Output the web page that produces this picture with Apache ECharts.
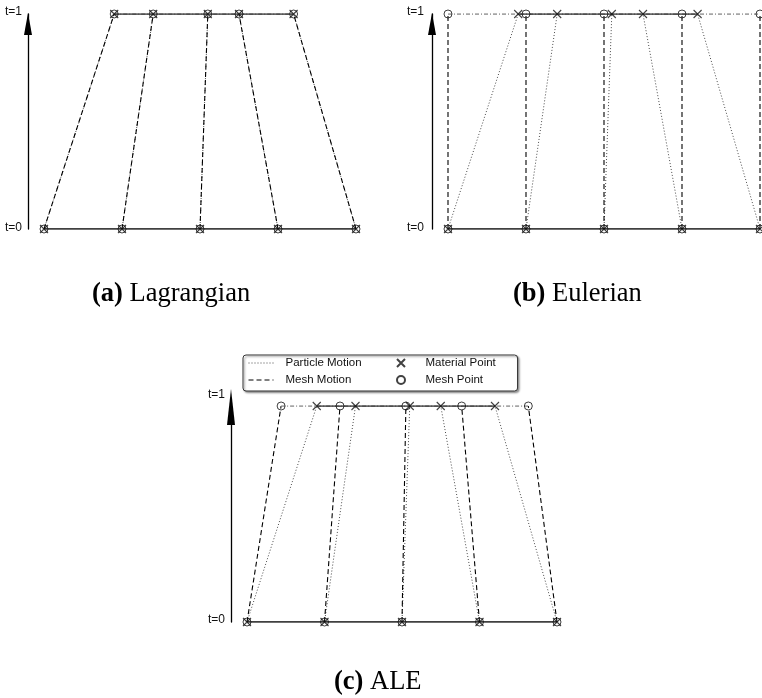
<!DOCTYPE html>
<html><head><meta charset="utf-8">
<script src="https://cdn.jsdelivr.net/npm/echarts@6/dist/echarts.min.js"></script>
<style>html,body{margin:0;padding:0;background:#fff}#c{width:762px;height:698px}</style>
</head><body><div id="c"></div>
<script>
// ---- data ----
const nodesT0 = [0, 1, 2, 3, 4];                 // node positions at t=0 (all panels)
const materialT1 = [0.9, 1.4, 2.1, 2.5, 3.2];    // material points at t=1
const meshT1Lagrangian = [0.9, 1.4, 2.1, 2.5, 3.2];
const meshT1Eulerian = [0, 1, 2, 3, 4];
const meshT1ALE = [0.44, 1.2, 2.05, 2.77, 3.63];
const timeLevels = [0, 1];
const timeLabels = ['t=0', 't=1'];
const captionTags = ['(a)', '(b)', '(c)'];
const captionNames = ['Lagrangian', 'Eulerian', 'ALE'];
const legendLines = ['Particle Motion', 'Mesh Motion'];
const legendPoints = ['Material Point', 'Mesh Point'];

const meshT1 = [meshT1Lagrangian, meshT1Eulerian, meshT1ALE];

// ---- layout / style ----
const panels = [
  {left: 44, top: 14, width: 312, height: 215, lift: [1, 2], arrowH: 22, arrowOff: -10, labelMargin: 6},
  {left: 448, top: 14, width: 312, height: 215, lift: [1, 2], arrowH: 22, arrowOff: -10, labelMargin: 8},
  {left: 247, top: 406, width: 310, height: 216, lift: [2, 11], arrowH: 36, arrowOff: -1, labelMargin: 6}
];
const captionPos = [[92, 281], [513, 281], [334, 669]];
const xPath = 'path://M0,0L10,10M10,0L0,10';

const grid = [], xAxis = [], yAxis = [], series = [];
panels.forEach((p, k) => {
  grid.push({left: p.left, top: p.top, width: p.width, height: p.height, containLabel: false});
  xAxis.push({gridIndex: k, type: 'value', min: nodesT0[0], max: nodesT0[nodesT0.length - 1], show: false});
  yAxis.push({
    gridIndex: k, type: 'value', min: timeLevels[0], max: timeLevels[1], interval: 1,
    position: 'left', offset: 16,
    axisLine: {show: true, onZero: false, symbol: ['none', 'triangle'], symbolSize: [8, p.arrowH],
      symbolOffset: [0, p.arrowOff], lineStyle: {color: '#000', width: 1.3}},
    axisTick: {show: false}, splitLine: {show: false},
    axisLabel: {
      margin: p.labelMargin, color: '#111', fontFamily: 'Liberation Sans', fontSize: 12,
      formatter: v => {
        const i = timeLevels.indexOf(v);
        return '{l' + i + '|' + timeLabels[i] + '}';
      },
      rich: {
        l0: {fontFamily: 'Liberation Sans', fontSize: 12, color: '#111', padding: [0, 0, p.lift[0] * 2, 0]},
        l1: {fontFamily: 'Liberation Sans', fontSize: 12, color: '#111', padding: [0, 0, p.lift[1] * 2, 0]}
      }
    }
  });
  const top = meshT1[k];
  for (let i = 0; i < nodesT0.length; i++) {
    series.push({type: 'line', name: 'Particle Motion', xAxisIndex: k, yAxisIndex: k, silent: true, z: 2,
      symbol: 'none', animation: false,
      data: [[nodesT0[i], timeLevels[0]], [materialT1[i], timeLevels[1]]],
      lineStyle: {color: '#4a4a4a', width: 1, type: [1, 2]}});
    series.push({type: 'line', name: 'Mesh Motion', xAxisIndex: k, yAxisIndex: k, silent: true, z: 2,
      symbol: 'none', animation: false,
      data: [[nodesT0[i], timeLevels[0]], [top[i], timeLevels[1]]],
      lineStyle: {color: '#000', width: 1.1, type: [5, 3]}});
  }
  // mesh extent at t=1
  series.push({type: 'line', name: 'mesh-extent', xAxisIndex: k, yAxisIndex: k, silent: true, z: 2,
    symbol: 'none', animation: false,
    data: [[top[0], timeLevels[1]], [top[top.length - 1], timeLevels[1]]],
    lineStyle: {color: '#888', width: 1.6, type: [4, 2, 1, 2]}});
  // material extent at t=0 and t=1
  series.push({type: 'line', name: 'material-extent-0', xAxisIndex: k, yAxisIndex: k, silent: true, z: 2,
    symbol: 'none', animation: false,
    data: [[nodesT0[0], timeLevels[0]], [nodesT0[nodesT0.length - 1], timeLevels[0]]],
    lineStyle: {color: '#000', width: 1.3, type: 'solid'}});
  series.push({type: 'line', name: 'material-extent-1', xAxisIndex: k, yAxisIndex: k, silent: true, z: 2,
    symbol: 'none', animation: false,
    data: [[materialT1[0], timeLevels[1]], [materialT1[materialT1.length - 1], timeLevels[1]]],
    lineStyle: {color: '#333', width: 1.4, type: 'solid'}});
  // points
  series.push({type: 'scatter', name: 'Material Point', xAxisIndex: k, yAxisIndex: k, silent: true, z: 4,
    symbol: xPath, symbolSize: 8, animation: false,
    data: nodesT0.map(x => [x, timeLevels[0]]).concat(materialT1.map(x => [x, timeLevels[1]])),
    itemStyle: {color: 'transparent', borderColor: '#111', borderWidth: 1.1}});
  series.push({type: 'scatter', name: 'Mesh Point', xAxisIndex: k, yAxisIndex: k, silent: true, z: 4,
    symbol: 'circle', symbolSize: 8, animation: false,
    data: nodesT0.map(x => [x, timeLevels[0]]).concat(top.map(x => [x, timeLevels[1]])),
    itemStyle: {color: 'transparent', borderColor: '#111', borderWidth: 1}});
});

const legendText = {fontFamily: 'Liberation Sans', fontSize: 11.5, color: '#111', width: 80, padding: [0, 0, 0, 7]};
const option = {
  backgroundColor: '#fff',
  animation: false,
  title: captionTags.map((tag, k) => ({
    text: '{b|' + tag + '} ' + captionNames[k],
    left: captionPos[k][0], top: captionPos[k][1], padding: 0,
    textStyle: {fontFamily: 'Liberation Serif', fontSize: 26.5, fontWeight: 'normal', color: '#000',
      rich: {b: {fontFamily: 'Liberation Serif', fontSize: 26.5, fontWeight: 'bold', color: '#000'}}}
  })),
  legend: [
    {data: legendLines.map(n => ({name: n, itemStyle: {opacity: 0}})), orient: 'vertical',
      left: 243, top: 355, padding: [2, 156, 5, 5], itemGap: 5, itemWidth: 25, itemHeight: 8,
      backgroundColor: '#fff', borderColor: '#333', borderWidth: 1, borderRadius: 3,
      shadowColor: 'rgba(0,0,0,0.4)', shadowBlur: 2, shadowOffsetX: 1.5, shadowOffsetY: 1.5,
      textStyle: legendText, lineStyle: {width: 1}, selectedMode: false, z: 4},
    {data: legendPoints, orient: 'vertical',
      left: 396, top: 355, padding: [2, 0, 5, 0], itemGap: 5, itemWidth: 25, itemHeight: 8,
      textStyle: legendText, selectedMode: false, z: 6}
  ],
  grid, xAxis, yAxis, series
};
const chart = echarts.init(document.getElementById('c'), null, {renderer: 'canvas'});
chart.setOption(option);
</script></body></html>
